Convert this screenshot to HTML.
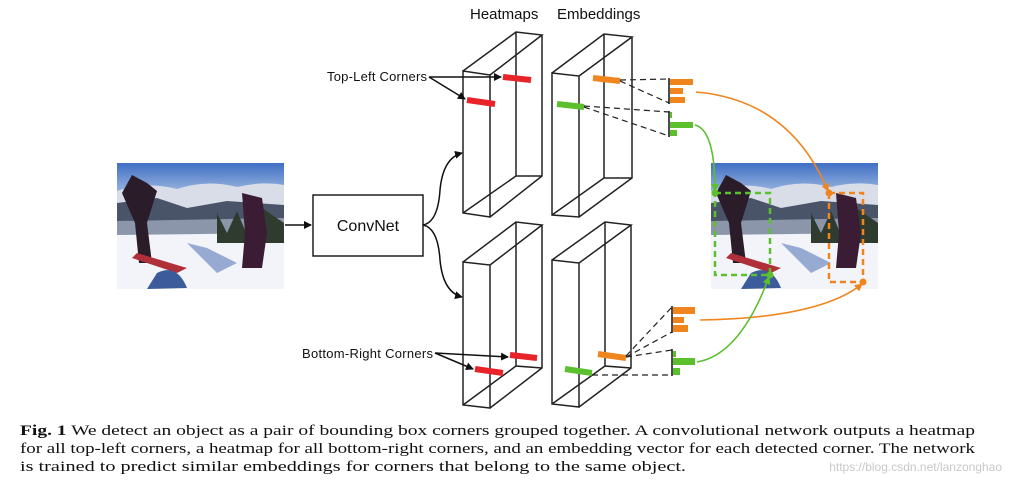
<!DOCTYPE html>
<html><head><meta charset="utf-8"><style>
html,body{margin:0;padding:0;background:#fff;}
svg{display:block}
</style></head><body>
<svg width="1012" height="490" viewBox="0 0 1012 490" xmlns="http://www.w3.org/2000/svg">
<defs>
<marker id="ak" markerWidth="8" markerHeight="8" refX="7" refY="4" orient="auto" markerUnits="userSpaceOnUse"><path d="M0,0 L8,4 L0,8 Z" fill="#111"/></marker>
<marker id="ao" markerWidth="8" markerHeight="8" refX="7" refY="4" orient="auto" markerUnits="userSpaceOnUse"><path d="M0,0 L8,4 L0,8 Z" fill="#f0851e"/></marker>
<marker id="ag" markerWidth="8" markerHeight="8" refX="7" refY="4" orient="auto" markerUnits="userSpaceOnUse"><path d="M0,0 L8,4 L0,8 Z" fill="#5bbf2e"/></marker>
<linearGradient id="sky" x1="0" y1="0" x2="0" y2="1"><stop offset="0" stop-color="#3f6fc4"/><stop offset="1" stop-color="#9db7e0"/></linearGradient>
<g id="photo">
<rect x="0" y="0" width="167" height="126" fill="#f2f4fa"/>
<rect x="0" y="0" width="167" height="30" fill="url(#sky)"/>
<path d="M0,28 Q30,18 60,26 Q90,16 120,24 Q145,18 167,22 L167,45 L0,45Z" fill="#d8dde8"/>
<path d="M0,40 L40,35 L70,45 L110,38 L167,42 L167,60 L0,62Z" fill="#4a5468"/>
<path d="M0,58 L167,55 L167,70 L0,72Z" fill="#8c96aa"/>
<path d="M100,50 L110,70 L120,48 L130,72 L145,45 L167,60 L167,80 L100,80Z" fill="#2f3b2f"/>
<path d="M15,12 L30,20 L40,28 L30,60 L35,100 L22,100 L18,60 L5,30Z" fill="#2a1c28"/>
<path d="M125,30 L145,35 L150,70 L145,105 L125,105 L128,70Z" fill="#3a1d34"/>
<path d="M20,90 L70,105 L60,110 L15,95Z" fill="#b0303a"/>
<path d="M40,110 Q60,100 70,125 L30,126Z" fill="#3c5b9a"/>
<path d="M70,80 L100,110 L120,100 L90,85Z" fill="#5a78b8" opacity="0.6"/>
</g>
</defs>

<text x="470" y="19" font-family="Liberation Sans, sans-serif" font-size="15" fill="#111">Heatmaps</text>
<text x="557" y="19" font-family="Liberation Sans, sans-serif" font-size="15" fill="#111">Embeddings</text>

<use href="#photo" x="117" y="163"/>
<use href="#photo" x="711" y="163"/>

<line x1="285" y1="225" x2="311" y2="225" stroke="#111" stroke-width="1.5" marker-end="url(#ak)"/>
<rect x="313" y="195" width="110" height="61" fill="#fff" stroke="#111" stroke-width="1.4"/>
<text x="368" y="231" text-anchor="middle" font-family="Liberation Sans, sans-serif" font-size="16" fill="#111">ConvNet</text>
<path d="M423,225 Q438,222 440,190 Q443,158 462,153" fill="none" stroke="#111" stroke-width="1.5" marker-end="url(#ak)"/>
<path d="M423,225 Q438,228 440,260 Q443,292 462,297" fill="none" stroke="#111" stroke-width="1.5" marker-end="url(#ak)"/>

<g fill="none" stroke="#222" stroke-width="1.5">
<path d="M463,71 L490,75 L490,217 L463,213 Z M463,71 L516,32 L542,35 L490,75 M542,35 L542,176 L490,217 M516,32 L516,176 L542,176 M463,213 L516,176"/>
<path d="M552,73 L579,76 L579,217 L552,215 Z M552,73 L604,34 L632,37 L579,76 M632,37 L632,178 L579,217 M604,34 L604,178 L632,178 M552,215 L604,178"/>
<path d="M463,262 L490,265 L490,408 L463,405 Z M463,262 L516,222 L542,225 L490,265 M542,225 L542,368 L490,408 M516,222 L516,366 L542,368 M463,405 L516,366"/>
<path d="M552,260 L579,263 L579,407 L552,404 Z M552,260 L605,222 L631,225 L579,263 M631,225 L631,368 L579,407 M605,222 L605,366 L631,368 M552,404 L605,366"/>
</g>

<g stroke-width="6" stroke-linecap="butt">
<line x1="503" y1="77" x2="531" y2="80" stroke="#e8232a"/>
<line x1="467" y1="100" x2="495" y2="104" stroke="#e8232a"/>
<line x1="593" y1="78" x2="620" y2="81" stroke="#f0851e"/>
<line x1="557" y1="104" x2="584" y2="107" stroke="#5bbf2e"/>
<line x1="510" y1="355" x2="537" y2="358" stroke="#e8232a"/>
<line x1="475" y1="369" x2="503" y2="373" stroke="#e8232a"/>
<line x1="598" y1="354" x2="626" y2="358" stroke="#f0851e"/>
<line x1="565" y1="369" x2="592" y2="373" stroke="#5bbf2e"/>
</g>

<text x="327" y="81" font-family="Liberation Sans, sans-serif" font-size="13" fill="#111" textLength="100">Top-Left Corners</text>
<line x1="429" y1="77" x2="501" y2="77" stroke="#111" stroke-width="1.5" marker-end="url(#ak)"/>
<line x1="429" y1="77" x2="465" y2="99" stroke="#111" stroke-width="1.5" marker-end="url(#ak)"/>
<text x="302" y="358" font-family="Liberation Sans, sans-serif" font-size="13" fill="#111" textLength="131">Bottom-Right Corners</text>
<line x1="435" y1="353" x2="508" y2="357" stroke="#111" stroke-width="1.5" marker-end="url(#ak)"/>
<line x1="435" y1="353" x2="473" y2="369" stroke="#111" stroke-width="1.5" marker-end="url(#ak)"/>

<g stroke="#222" stroke-width="1.2" stroke-dasharray="6,4" fill="none">
<line x1="620" y1="80" x2="669" y2="79"/>
<line x1="620" y1="81" x2="669" y2="103"/>
<line x1="584" y1="106" x2="669" y2="112"/>
<line x1="584" y1="107" x2="669" y2="136"/>
<line x1="626" y1="356" x2="672" y2="307"/>
<line x1="626" y1="357" x2="672" y2="332"/>
<line x1="626" y1="357" x2="672" y2="350"/>
<line x1="592" y1="375" x2="672" y2="375"/>
</g>

<g>
<line x1="669" y1="78" x2="669" y2="104" stroke="#111" stroke-width="1.5"/>
<rect x="670" y="79" width="23" height="6" fill="#f0851e"/>
<rect x="670" y="88" width="13" height="6" fill="#f0851e"/>
<rect x="670" y="97" width="15" height="6" fill="#f0851e"/>
<line x1="669" y1="111" x2="669" y2="137" stroke="#111" stroke-width="1.5"/>
<rect x="670" y="112" width="2" height="6" fill="#5bbf2e"/>
<rect x="670" y="122" width="23" height="6" fill="#5bbf2e"/>
<rect x="670" y="130" width="7" height="6" fill="#5bbf2e"/>
<line x1="672" y1="306" x2="672" y2="333" stroke="#111" stroke-width="1.5"/>
<rect x="673" y="307" width="22" height="7" fill="#f0851e"/>
<rect x="673" y="317" width="11" height="6" fill="#f0851e"/>
<rect x="673" y="325" width="15" height="7" fill="#f0851e"/>
<line x1="672" y1="349" x2="672" y2="376" stroke="#111" stroke-width="1.5"/>
<rect x="673" y="351" width="3" height="6" fill="#5bbf2e"/>
<rect x="673" y="358" width="22" height="7" fill="#5bbf2e"/>
<rect x="673" y="368" width="7" height="7" fill="#5bbf2e"/>
</g>

<path d="M696,92 Q790,100 828,191" fill="none" stroke="#f0851e" stroke-width="1.6" marker-end="url(#ao)"/>
<path d="M695,125 Q715,130 715,191" fill="none" stroke="#5bbf2e" stroke-width="1.6" marker-end="url(#ag)"/>
<path d="M700,320 Q820,318 862,284" fill="none" stroke="#f0851e" stroke-width="1.6" marker-end="url(#ao)"/>
<path d="M697,362 Q740,355 769,277" fill="none" stroke="#5bbf2e" stroke-width="1.6" marker-end="url(#ag)"/>

<rect x="715" y="193" width="55" height="82" fill="none" stroke="#5bbf2e" stroke-width="2.5" stroke-dasharray="6,4"/>
<circle cx="715" cy="193" r="3.5" fill="#5bbf2e"/><circle cx="770" cy="275" r="3.5" fill="#5bbf2e"/>
<rect x="829" y="193" width="34" height="89" fill="none" stroke="#f0851e" stroke-width="2.5" stroke-dasharray="6,4"/>
<circle cx="829" cy="193" r="3.5" fill="#f0851e"/><circle cx="863" cy="282" r="3.5" fill="#f0851e"/>

<g font-family="Liberation Serif, serif" font-size="15" fill="#111">
<text x="20" y="435" textLength="955" lengthAdjust="spacingAndGlyphs"><tspan font-weight="bold">Fig. 1</tspan>  We detect an object as a pair of bounding box corners grouped together. A convolutional network outputs a heatmap</text>
<text x="20" y="453" textLength="955" lengthAdjust="spacingAndGlyphs">for all top-left corners, a heatmap for all bottom-right corners, and an embedding vector for each detected corner. The network</text>
<text x="20" y="471" textLength="666" lengthAdjust="spacingAndGlyphs">is trained to predict similar embeddings for corners that belong to the same object.</text>
</g>
<text x="1002" y="471" text-anchor="end" font-family="Liberation Sans, sans-serif" font-size="12" fill="#c8c8c8">https://blog.csdn.net/lanzonghao</text>
</svg>
</body></html>
